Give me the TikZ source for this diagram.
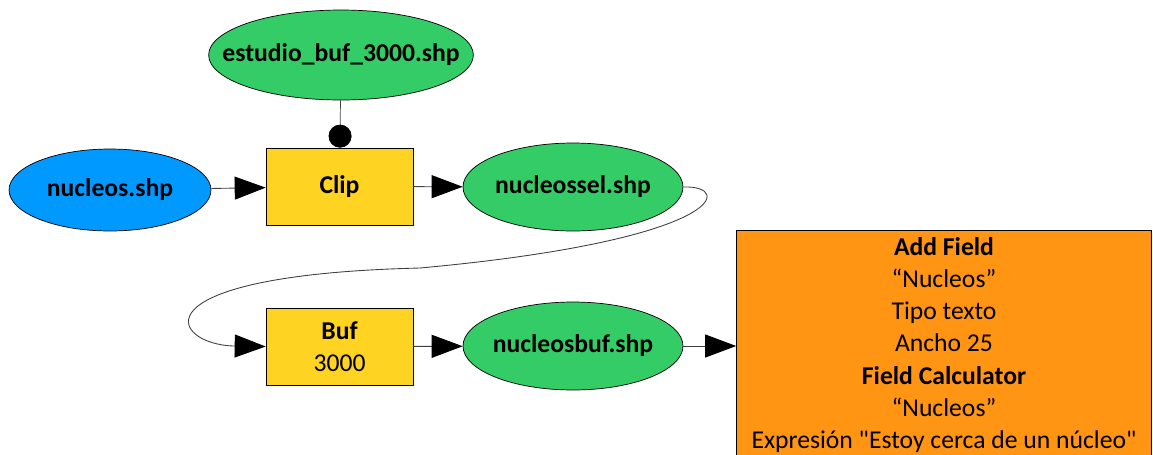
\documentclass[tikz,border=0pt]{standalone}
\usepackage{fontspec}
\setmainfont{Carlito}
\usetikzlibrary{shapes.geometric,arrows.meta}
\definecolor{azul}{HTML}{0099FF}
\definecolor{verde}{HTML}{33CC66}
\definecolor{amarillo}{HTML}{FFD321}
\definecolor{naranja}{HTML}{FF9512}
\begin{document}
\begin{tikzpicture}[x=0.02cm,y=-0.02cm,font=\fontsize{14.6}{18.3}\selectfont,
    capa/.style={draw,ellipse,font=\fontsize{14.6}{18.3}\selectfont\bfseries,inner xsep=-0.5cm,inner ysep=0pt},
    proceso/.style={draw,fill=amarillo,minimum width=2.94cm,minimum height=1.54cm,align=center},
    flecha/.style={-{Triangle[length=0.62cm,width=0.46cm,color=black]},draw=black!75,line width=0.5pt}]
        \useasboundingbox (0,0) rectangle (1153,454);

        \node[capa,fill=verde,minimum width=5.2cm,minimum height=1.8cm] (E) at (341,55) {estudio\_buf\_3000.shp};
        \node[capa,fill=azul,minimum width=4.04cm,minimum height=1.64cm] (N) at (110,190) {nucleos.shp};
        \node[proceso] (C) at (339.5,186.5) {\textbf{Clip}};
        \node[capa,fill=verde,minimum width=4.4cm,minimum height=1.76cm] (S) at (573,187) {nucleossel.shp};
        \node[proceso] (B) at (339.5,346.5) {\textbf{Buf}\\3000};
        \node[capa,fill=verde,minimum width=4.4cm,minimum height=1.76cm] (U) at (573,346) {nucleosbuf.shp};
        \node[draw,fill=naranja,minimum width=8.3cm,minimum height=4.6cm,align=center] (F) at (944,345)
            {\textbf{Add Field}\\“Nucleos”\\Tipo texto\\Ancho 25\\\textbf{Field Calculator}\\“Nucleos”\\Expresión \textquotedbl Estoy cerca de un núcleo\textquotedbl};
        \coordinate (m) at (420,268);

        \path [draw=black!75,-{Circle[length=0.46cm,color=black]}] (E) -- (C);
        \path [flecha] (N) -- (C);
        \path [flecha] (C) -- (S);
        \path [draw=black!75,line width=0.5pt] (S.east) .. controls (735,185) and (725,240) .. (m);
        \path [flecha] (m) .. controls (130,275) and (170,345) .. (B.west);
        \path [flecha] (B) -- (U);
        \path [flecha] (U) -- (F.west |- U);
    \end{tikzpicture}
\end{document}
